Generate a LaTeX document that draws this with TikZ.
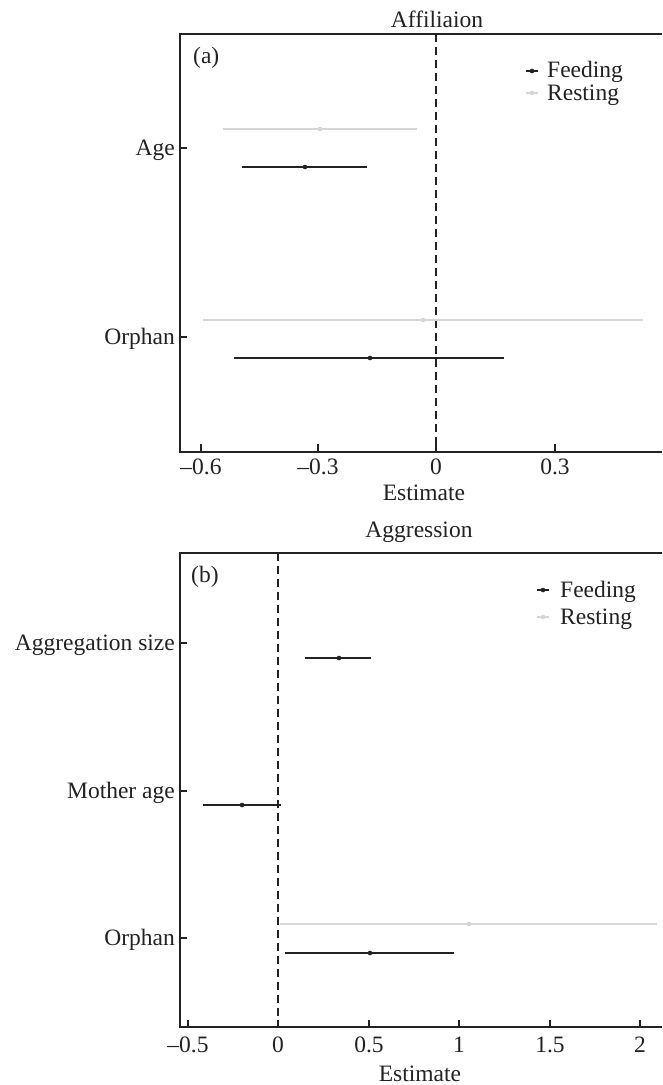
\documentclass[tikz,border=0pt]{standalone}
\usepackage{fontspec}
\setmainfont{Liberation Serif}
\definecolor{ink}{HTML}{222222}
\definecolor{pale}{HTML}{D6D6D6}
\begin{document}
\begin{tikzpicture}[x=1pt,y=-1pt,
  font=\fontsize{23.5}{28}\selectfont,
  axis/.style={line width=1.4pt, draw=ink},
  tick/.style={line width=1.3pt, draw=ink},
  feed/.style={line width=1.4pt, draw=ink},
  rest/.style={line width=1.4pt, draw=pale},
  fdot/.style={fill=ink},
  rdot/.style={fill=pale},
  zero/.style={draw=ink, line width=1.3pt, dash pattern=on 8pt off 5pt},
  lab/.style={inner sep=0pt, text=ink},
  ylab/.style={lab, anchor=base east},
  xlab/.style={lab, anchor=base},
]
\useasboundingbox (0,0) rectangle (662,1085);

% ---------------- Panel (a) ----------------
\node[xlab] (ta) at (437,27) {Affiliaion};
\draw[axis] (662,34) -- (180,34) -- (180,452) -- (662,452);
\node[lab, anchor=base west] (pa) at (193,63) {(a)};
\draw[zero] (436,34) -- (436,452);
% y ticks
\draw[tick] (180,148) -- (187,148);
\draw[tick] (180,337) -- (187,337);
\node[ylab] (ya1) at (175,155) {Age};
\node[ylab] (ya2) at (175,344) {Orphan};
% x ticks
\foreach \xx/\tt in {201/{\textendash0.6},318/{\textendash0.3},436/0,555/0.3}{
  \draw[tick] (\xx,452) -- (\xx,444);
  \node[xlab] at (\xx,474) {\tt};
}
\node[xlab] (ea) at (424,500) {Estimate};
% bars
\draw[rest] (223,129) -- (417,129); \fill[rdot] (320,129) circle (2.3);
\draw[feed] (242,167) -- (367,167); \fill[fdot] (305,167) circle (2.3);
\draw[rest] (203,320) -- (643,320); \fill[rdot] (423,320) circle (2.3);
\draw[feed] (234,358) -- (504,358); \fill[fdot] (370,358) circle (2.3);
% legend
\draw[feed] (526,71) -- (538,71); \fill[fdot] (532,71) circle (2.3);
\node[lab, anchor=base west] (la1) at (547,77) {Feeding};
\draw[rest] (526,93) -- (538,93); \fill[rdot] (532,93) circle (2.3);
\node[lab, anchor=base west] (la2) at (547,100) {Resting};

% ---------------- Panel (b) ----------------
\node[xlab] (tb) at (419,537) {Aggression};
\draw[axis] (662,553) -- (180,553) -- (180,1027) -- (662,1027);
\node[lab, anchor=base west] (pb) at (191,582) {(b)};
\draw[zero] (278,553) -- (278,1027);
% y ticks
\draw[tick] (180,643) -- (187,643);
\draw[tick] (180,791) -- (187,791);
\draw[tick] (180,938) -- (187,938);
\node[ylab] (yb1) at (175,650) {Aggregation size};
\node[ylab] (yb2) at (175,798) {Mother age};
\node[ylab] (yb3) at (175,945) {Orphan};
% x ticks
\foreach \xx/\tt in {188/{\textendash0.5},278/0,369/0.5,459/1,550/1.5,640/2}{
  \draw[tick] (\xx,1027) -- (\xx,1020);
  \node[xlab] at (\xx,1052) {\tt};
}
\node[xlab] (eb) at (420,1081) {Estimate};
% bars
\draw[feed] (305,658) -- (371,658); \fill[fdot] (339,658) circle (2.3);
\draw[feed] (203,805) -- (281,805); \fill[fdot] (242,805) circle (2.3);
\draw[rest] (280,924) -- (657,924); \fill[rdot] (469,924) circle (2.3);
\draw[feed] (285,953) -- (454,953); \fill[fdot] (370,953) circle (2.3);
% legend
\draw[feed] (537,590) -- (549,590); \fill[fdot] (543,590) circle (2.3);
\node[lab, anchor=base west] (lb1) at (560,597) {Feeding};
\draw[rest] (537,617) -- (549,617); \fill[rdot] (543,617) circle (2.3);
\node[lab, anchor=base west] (lb2) at (560,624) {Resting};
\end{tikzpicture}
\end{document}
